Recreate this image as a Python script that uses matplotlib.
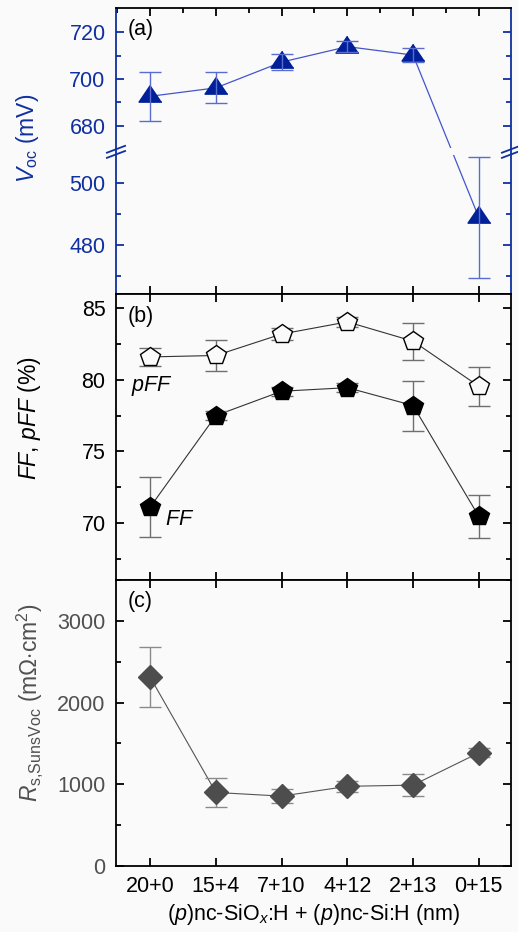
import numpy as np
import matplotlib
matplotlib.use("Agg")
import matplotlib.pyplot as plt
from matplotlib.scale import FuncScale
from matplotlib.patches import Rectangle
from matplotlib.ticker import FixedLocator, MultipleLocator, NullFormatter

plt.rcParams['font.family'] = ['Liberation Sans', 'DejaVu Sans']
plt.rcParams['mathtext.fontset'] = 'custom'
plt.rcParams['mathtext.rm'] = 'Liberation Sans'
plt.rcParams['mathtext.it'] = 'Liberation Sans:italic'
plt.rcParams['font.size'] = 15.5

# ---- data ----
samples = ["20+0", "15+4", "7+10", "4+12", "2+13", "0+15"]
voc = [692.6, 696.2, 707.2, 713.8, 710.2, 489.0]
voc_err = [10.4, 6.6, 3.3, 2.3, 2.9, 19.6]
ff = [71.1, 77.5, 79.2, 79.45, 78.2, 70.45]
ff_err = [2.1, 0.3, 0.3, 0.3, 1.75, 1.5]
pff = [81.6, 81.7, 83.2, 84.05, 82.7, 79.55]
pff_err = [0.6, 1.05, 0.4, 0.35, 1.3, 1.35]
rs = [2310, 900, 855, 975, 990, 1385]
rs_err = [370, 173, 90, 70, 130, 57]

BG = '#fafafa'
BLUE = '#1030a0'
x = np.arange(len(samples))

fig = plt.figure(figsize=(5.18, 9.32), dpi=100, facecolor=BG)
L, W = 116 / 518, 395 / 518
H = 286 / 932
ax_a = fig.add_axes([L, 1 - 294 / 932, W, H], facecolor=BG)
ax_b = fig.add_axes([L, 1 - 580 / 932, W, H], facecolor=BG)
ax_c = fig.add_axes([L, 1 - 866 / 932, W, H], facecolor=BG)


def style(ax, color):
    for s in ax.spines.values():
        s.set_linewidth(1.3)
        s.set_color('black')
    ax.spines['left'].set_color(color)
    ax.spines['right'].set_color(color)
    ax.tick_params(axis='y', which='both', direction='in', right=True,
                   colors=color, width=1.3)
    ax.tick_params(axis='y', which='major', length=6, pad=7.5)
    ax.tick_params(axis='y', which='minor', length=3.5)
    ax.tick_params(axis='x', which='both', direction='in', top=True,
                   color='black', width=1.3, length=6)
    ax.set_xlim(-0.52, 5.49)
    ax.set_xticks(x)


# ---- (a) Voc with broken axis ----
v_knots = [0.0, 510.1, 668.9, 2000.0]
f_knots = [(0.0 - 464.3) * 3.1, 141.98, 142.08, 142.08 + (2000.0 - 668.9) * 2.34]


def fwd(v):
    return np.interp(v, v_knots, f_knots)


def inv(f):
    return np.interp(f, f_knots, v_knots)


ax_a.set_yscale(FuncScale(ax_a, (fwd, inv)))
ax_a.set_ylim(464.3, 730.3)
style(ax_a, BLUE)
ax_a.yaxis.set_major_locator(FixedLocator([480, 500, 680, 700, 720]))
ax_a.yaxis.set_minor_locator(FixedLocator([470, 490, 690, 710]))
ax_a.yaxis.set_major_formatter(matplotlib.ticker.FormatStrFormatter('%d'))
ax_a.yaxis.set_minor_formatter(NullFormatter())
ax_a.xaxis.set_minor_locator(MultipleLocator(0.5))
ax_a.tick_params(axis='x', which='minor', bottom=False, top=True,
                 direction='in', length=3.5, width=1.3)
ax_a.tick_params(axis='x', labelbottom=False)

tri = [(0, 0.987), (-1, -0.493), (1, -0.493)]
ax_a.plot(x, voc, '-', color='#4455cc', lw=0.9, zorder=2)
ax_a.plot(x, voc, linestyle='none', marker=tri, ms=16.5,
          mfc='#00209a', mec='#00209a', zorder=3)
ax_a.errorbar(x, voc, yerr=voc_err, fmt='none', ecolor='#5a6cd0',
              elinewidth=1.0, capsize=8, capthick=1.0, zorder=4)

# gap in the connecting line at the break
yb = ax_a.transAxes.inverted().transform(ax_a.transData.transform((0, 589.5)))[1]
ax_a.add_patch(Rectangle((0, yb - 0.012), 1, 0.024, transform=ax_a.transAxes,
                         facecolor=BG, edgecolor='none', zorder=2.2))
dx, dy, gap = 0.023, 0.012, 0.009
for xs in (0, 1):
    for g in (-gap, gap):
        ax_a.plot([xs - dx, xs + dx], [yb + g - dy, yb + g + dy],
                  color=BLUE, lw=1.3, transform=ax_a.transAxes,
                  clip_on=False, zorder=5)

ax_a.set_ylabel(r'$V_{\rm oc}$ (mV)', color=BLUE, fontsize=16.5)
ax_a.yaxis.set_label_coords(-0.19, 0.545)
ax_a.text(0.03, 0.925, '(a)', transform=ax_a.transAxes, va='center')

# ---- (b) FF / pFF ----
style(ax_b, 'black')
ax_b.set_ylim(66, 86)
ax_b.yaxis.set_major_locator(MultipleLocator(5))
ax_b.yaxis.set_minor_locator(MultipleLocator(2.5))
ax_b.tick_params(axis='x', labelbottom=False)

ax_b.plot(x, pff, '-', color='#333333', lw=0.8, zorder=2)
ax_b.errorbar(x, pff, yerr=pff_err, fmt='none', ecolor='#6f6f6f',
              elinewidth=1.0, capsize=8, capthick=1.0, zorder=2.5)
ax_b.plot(x, pff, linestyle='none', marker='p', ms=14.5, mfc=BG,
          mec='black', mew=1.0, zorder=3)
ax_b.plot(x, ff, '-', color='#333333', lw=0.8, zorder=2)
ax_b.errorbar(x, ff, yerr=ff_err, fmt='none', ecolor='#6f6f6f',
              elinewidth=1.0, capsize=8, capthick=1.0, zorder=2.5)
ax_b.plot(x, ff, linestyle='none', marker='p', ms=15, mfc='black',
          mec='black', zorder=3)

ax_b.text(0.03, 79.6, r'$pFF$', ha='center', va='center')
ax_b.text(0.45, 70.25, r'$FF$', ha='center', va='center')
ax_b.set_ylabel(r'$FF$, $pFF$ (%)', fontsize=16.5)
ax_b.yaxis.set_label_coords(-0.185, 0.566)
ax_b.text(0.03, 0.92, '(b)', transform=ax_b.transAxes, va='center')

# ---- (c) Rs ----
GREY = '#4d4d4d'
style(ax_c, 'black')
ax_c.tick_params(axis='y', which='both', labelcolor='#505050')
ax_c.set_ylim(0, 3500)
ax_c.yaxis.set_major_locator(MultipleLocator(1000))
ax_c.yaxis.set_minor_locator(MultipleLocator(500))
ax_c.set_xticklabels(samples)
ax_c.tick_params(axis='x', pad=7)

ax_c.plot(x, rs, '-', color='#555555', lw=0.8, zorder=2)
ax_c.errorbar(x, rs, yerr=rs_err, fmt='none', ecolor='#8a8a8a',
              elinewidth=1.0, capsize=8, capthick=1.0, zorder=2.5)
ax_c.plot(x, rs, linestyle='none', marker='D', ms=12.5, mfc=GREY,
          mec=GREY, zorder=3)

ax_c.set_ylabel(r'$R_{\rm s{,}SunsVoc}$ (m$\Omega$$\cdot$cm$^2$)',
                color='#505050', fontsize=16.5)
ax_c.yaxis.set_label_coords(-0.18, 0.57)
ax_c.text(0.03, 0.924, '(c)', transform=ax_c.transAxes, va='center')
ax_c.set_xlabel(r'($p$)nc-SiO$_x$:H + ($p$)nc-Si:H (nm)', labelpad=4)

fig.savefig('out.png', dpi=100, facecolor=BG)
